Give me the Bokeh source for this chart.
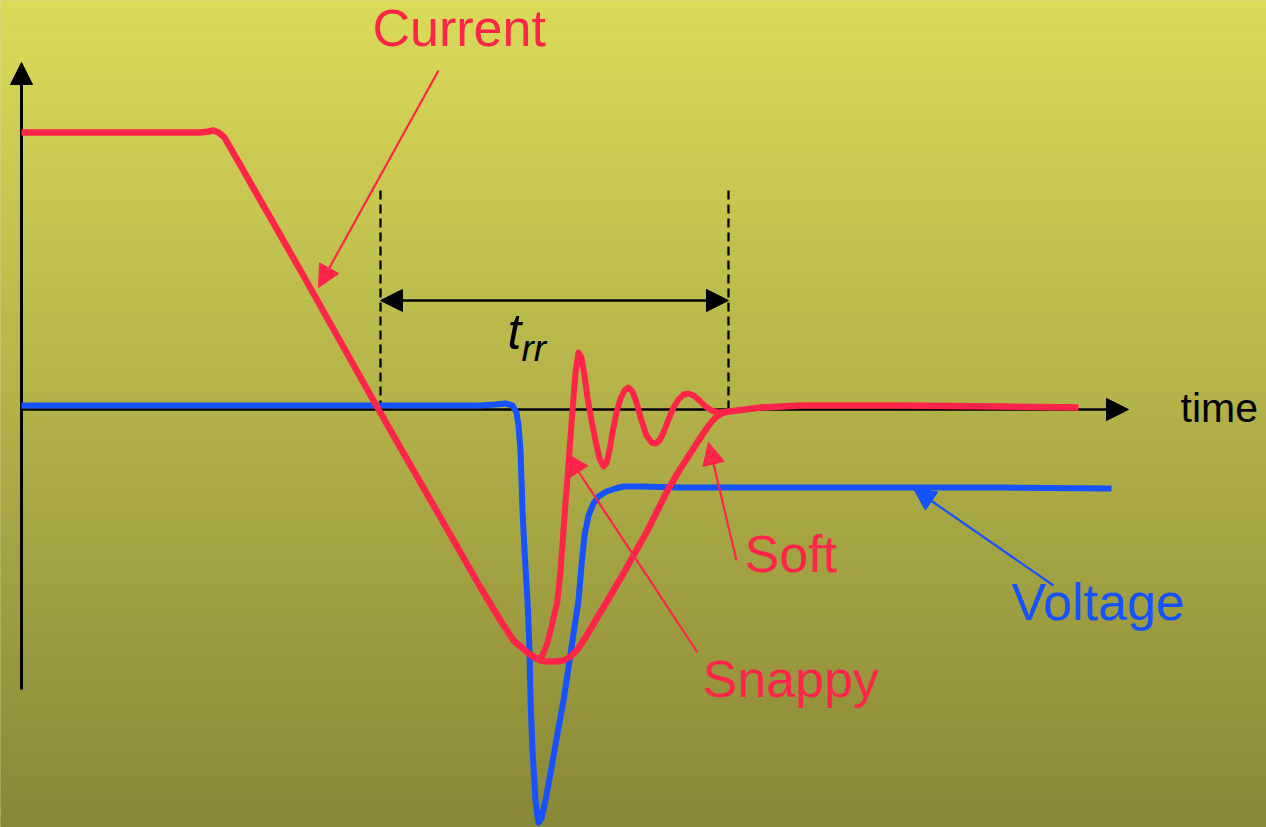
import numpy as np
from bokeh.plotting import figure
from bokeh.models import Range1d, Arrow, NormalHead
from bokeh.core.properties import value
from bokeh.embed import file_html
from bokeh.resources import INLINE

RED = "#ff2449"
BLUE = "#1652ff"
FONT = value("Liberation Sans")

# ---- data (screen-like coordinates, y grows downward) ----
current_x = [21, 200, 208, 213, 218, 224, 300, 378, 440, 480, 500, 513, 527, 537]
current_y = [132, 132, 131, 130, 132, 137, 270, 409, 517, 587, 620, 640, 652, 659]

snappy_x = [537, 542, 547, 552, 557, 560, 563, 566, 569, 572, 575, 578, 581, 584, 587,
            591, 595, 599, 603, 606, 609, 612, 616, 620, 624, 628, 632, 636, 641, 646,
            651, 655, 659, 663, 668, 673, 678, 683, 688, 693, 699, 705, 711, 718, 728]
snappy_y = [659, 655, 642, 622, 600, 570, 530, 490, 450, 410, 372, 352, 357, 375, 397,
            420, 440, 458, 466, 463, 450, 432, 412, 398, 390, 387, 391, 402, 420, 435,
            442, 443, 440, 432, 419, 407, 399, 394, 393, 395, 400, 406, 410, 412, 411]

soft_x = [537, 545, 555, 563, 570, 577, 585, 595, 607, 620, 633, 647, 657, 667, 680,
          693, 702, 709, 715, 721, 728, 745, 760, 800, 900, 1000, 1078]
soft_y = [659, 661, 661, 660, 656, 649, 637, 620, 600, 578, 555, 530, 510, 490, 468,
          448, 434, 424, 417, 413, 411, 409, 407, 405, 405, 406, 407]

voltage_x = [21, 480, 495, 505, 512, 516, 518, 520, 521, 522, 524, 527, 529, 530, 532,
             535, 537, 538, 541, 545, 551, 557, 563, 568, 573, 578, 581, 584, 588, 593,
             598, 606, 615, 623, 640, 680, 800, 1000, 1111]
voltage_y = [405, 405, 404, 403, 405, 412, 425, 450, 480, 510, 550, 600, 650, 700, 750,
             800, 816, 822, 818, 800, 767, 733, 700, 667, 633, 600, 565, 535, 515, 503,
             496, 491, 488, 486, 486, 487, 487, 487, 488]

trr_bounds = [380, 728]

labels = ["Current", "Snappy", "Soft", "Voltage"]

W, H = 1266, 827

# ---- figure ----
p = figure(width=W, height=H, x_range=Range1d(0, W), y_range=Range1d(H, 0),
           output_backend="svg", toolbar_location=None, min_border=0,
           x_axis_location=None, y_axis_location=None)
p.xgrid.visible = False
p.ygrid.visible = False
p.outline_line_color = None
p.background_fill_color = "#b8b84a"
p.border_fill_color = "#b8b84a"

# background gradient
edges = np.linspace(0, H, 166)
top_c = np.array([219, 219, 90])
bot_c = np.array([137, 136, 56])
cols = []
for a, b in zip(edges[:-1], edges[1:]):
    t = ((a + b) / 2) / float(H)
    c = (top_c + (bot_c - top_c) * t).astype(int)
    cols.append("#%02x%02x%02x" % tuple(c))
bg = p.quad(left=0, right=W, top=edges[:-1], bottom=edges[1:],
            fill_color=cols, line_color=cols, line_width=1)
bg.level = "image"

# axes with arrow heads
p.add_layout(Arrow(end=NormalHead(size=22, fill_color="black", line_color="black"),
                   x_start=21, y_start=689, x_end=21, y_end=62,
                   line_width=3, line_color="black", level="underlay"))
p.add_layout(Arrow(end=NormalHead(size=22, fill_color="black", line_color="black"),
                   x_start=21, y_start=409, x_end=1128, y_end=409,
                   line_width=2.5, line_color="black", level="underlay"))

# trr dashed markers and double arrow
for xb in trr_bounds:
    p.line([xb, xb], [190, 411], line_color="black", line_width=2.3, line_dash="9 5")
p.add_layout(Arrow(start=NormalHead(size=22, fill_color="black", line_color="black"),
                   end=NormalHead(size=22, fill_color="black", line_color="black"),
                   x_start=trr_bounds[0], y_start=300, x_end=trr_bounds[1], y_end=300,
                   line_width=2.5, line_color="black"))

# curves
p.line(voltage_x, voltage_y, line_color=BLUE, line_width=6, line_join="round")
p.line(current_x, current_y, line_color=RED, line_width=6.5, line_join="round")
p.line(snappy_x, snappy_y, line_color=RED, line_width=6, line_join="round")
p.line(soft_x, soft_y, line_color=RED, line_width=6.5, line_join="round")

# annotation arrows
def pointer(x0, y0, x1, y1, color):
    p.add_layout(Arrow(end=NormalHead(size=22, fill_color=color, line_color=color),
                       x_start=x0, y_start=y0, x_end=x1, y_end=y1,
                       line_width=2.2, line_color=color))

pointer(438, 70, 318, 287, RED)
pointer(697, 652, 566, 453, RED)
pointer(736, 560, 708, 442, RED)
pointer(1053, 585, 913, 488, BLUE)

# labels (baseline compensation for svg text placement)
def label(x, y, txt, size, color, style="normal"):
    p.text(x=[x], y=[y - 0.38 * size], text=[txt], text_font=FONT,
           text_font_size=value("%dpx" % size), text_font_style=style,
           text_color=color, text_baseline="alphabetic", text_align="left")

label(372, 47, labels[0], 52, RED)
label(702, 698, labels[1], 52, RED)
label(744, 573, labels[2], 52, RED)
label(1011, 621, labels[3], 52, BLUE)
label(1180, 423, "time", 41, "black")
label(507, 350, "t", 50, "black", "italic")
label(521, 362, "rr", 37, "black", "italic")

open("out.html", "w").write(file_html(p, INLINE))
